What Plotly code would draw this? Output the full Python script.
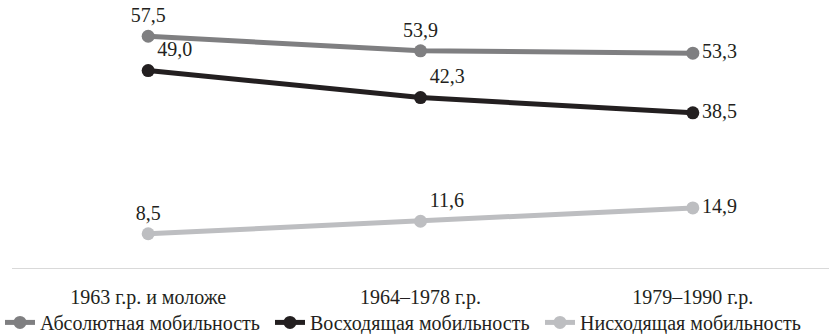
import plotly.graph_objects as go

categories = ["1963 г.р. и моложе", "1964–1978 г.р.", "1979–1990 г.р."]
series_names = ["Абсолютная мобильность", "Восходящая мобильность", "Нисходящая мобильность"]
absolute = [57.5, 53.9, 53.3]
upward = [49.0, 42.3, 38.5]
downward = [8.5, 11.6, 14.9]

colors = ["#7f7f81", "#231f20", "#bdbec1"]
positions = [
    ["top center", "top center", "middle right"],
    ["top right", "top right", "middle right"],
    ["top center", "top right", "middle right"],
]

FONT = "Liberation Serif, Times New Roman, DejaVu Serif, serif"

def fmt(v):
    return f"{v:.1f}".replace(".", ",")

fig = go.Figure()
for name, vals, col, pos in zip(series_names, [absolute, upward, downward], colors, positions):
    fig.add_trace(go.Scatter(
        x=categories, y=vals, name=name,
        mode="lines+markers+text",
        line=dict(color=col, width=5),
        marker=dict(color=col, size=13),
        text=[fmt(v) for v in vals],
        textposition=pos,
        textfont=dict(family=FONT, size=20, color="#231f20"),
        cliponaxis=False,
    ))

fig.update_layout(
    width=831, height=334,
    margin=dict(l=12, r=2, t=0, b=66, autoexpand=False),
    paper_bgcolor="white", plot_bgcolor="white",
    font=dict(family=FONT, size=20, color="#231f20"),
    showlegend=True,
    legend=dict(orientation="h", x=-0.0147, xanchor="left", y=-0.203, yanchor="middle",
                bgcolor="rgba(0,0,0,0)",
                font=dict(family=FONT, size=20), itemwidth=30, tracegroupgap=0,
                entrywidth=225),
    xaxis=dict(type="category", range=[-0.5, 2.5], showgrid=False, showline=True,
               linecolor="#d9d9d9", linewidth=1,
               ticks="outside", ticklen=11, tickcolor="rgba(0,0,0,0)",
               tickfont=dict(family=FONT, size=20), zeroline=False),
    yaxis=dict(range=[0, 66.5], visible=False, showgrid=False, zeroline=False),
)

fig.write_html("out.html", config={"displayModeBar": False},
               post_script="document.body.style.margin='0';")
